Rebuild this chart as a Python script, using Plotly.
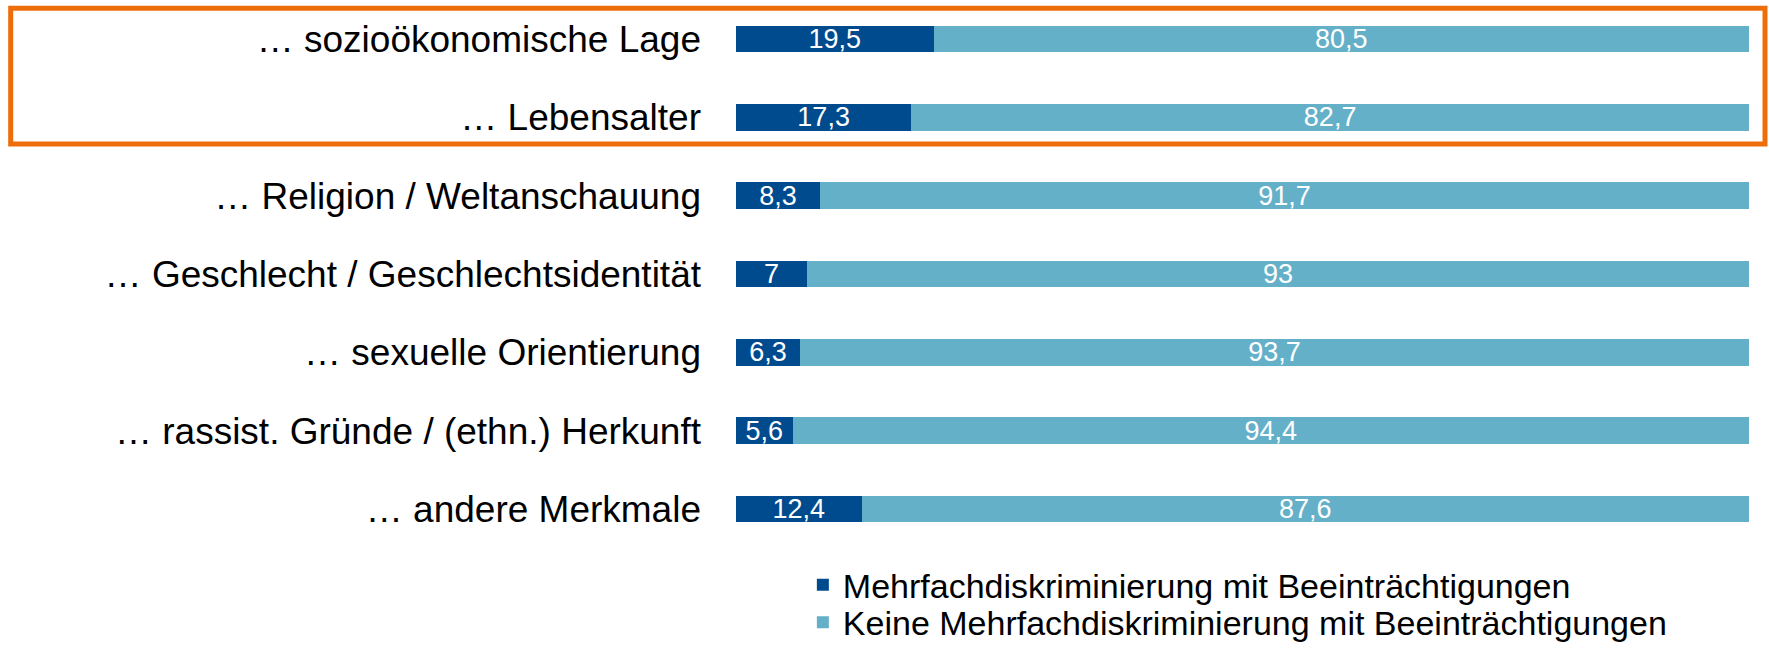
import plotly.graph_objects as go

categories = [
    "… sozioökonomische Lage",
    "… Lebensalter",
    "… Religion / Weltanschauung",
    "… Geschlecht / Geschlechtsidentität",
    "… sexuelle Orientierung",
    "… rassist. Gründe / (ethn.) Herkunft",
    "… andere Merkmale",
]
mehrfach = [19.5, 17.3, 8.3, 7, 6.3, 5.6, 12.4]
keine = [80.5, 82.7, 91.7, 93, 93.7, 94.4, 87.6]
series_names = [
    "Mehrfachdiskriminierung mit Beeinträchtigungen",
    "Keine Mehrfachdiskriminierung mit Beeinträchtigungen",
]

DARK = "#004B8D"
LIGHT = "#65B0C9"
ORANGE = "#EE6D0B"
FONT = "Liberation Sans, Arial, sans-serif"


def fmt(v):
    return ("%g" % v).replace(".", ",")


fig = go.Figure()
for name, vals, col, leg in [(series_names[0], mehrfach, DARK, "legend"),
                             (series_names[1], keine, LIGHT, "legend2")]:
    fig.add_trace(go.Bar(
        y=categories, x=vals, name=name, orientation="h",
        marker=dict(color=col, line=dict(width=0)),
        text=[fmt(v) for v in vals], textposition="inside",
        insidetextanchor="middle", textangle=0, constraintext="none",
        textfont=dict(color="white", size=27, family=FONT),
        width=0.34, legend=leg,
    ))

fig.add_shape(type="rect", xref="paper", yref="y",
              x0=-0.716, x1=1.0158, y0=-0.395, y1=1.34,
              line=dict(color=ORANGE, width=5), fillcolor="rgba(0,0,0,0)")

legend_common = dict(x=0.066, xanchor="left", yanchor="middle",
                     font=dict(size=34, color="black", family=FONT),
                     bgcolor="rgba(0,0,0,0)", borderwidth=0)

fig.update_layout(
    width=1769, height=648,
    barmode="stack",
    plot_bgcolor="white", paper_bgcolor="white",
    margin=dict(l=736, r=20, t=0, b=100, autoexpand=False),
    font=dict(family=FONT, color="black", size=37),
    xaxis=dict(range=[0, 100], visible=False),
    yaxis=dict(autorange="reversed", showline=False, ticks="", showgrid=False,
               ticklabelstandoff=34, tickfont=dict(size=37, color="black")),
    legend=dict(y=-0.068, **legend_common),
    legend2=dict(y=-0.136, **legend_common),
    showlegend=True,
)

fig.write_html("out.html", config={"displayModeBar": False},
               post_script="document.body.style.margin='0px';")
